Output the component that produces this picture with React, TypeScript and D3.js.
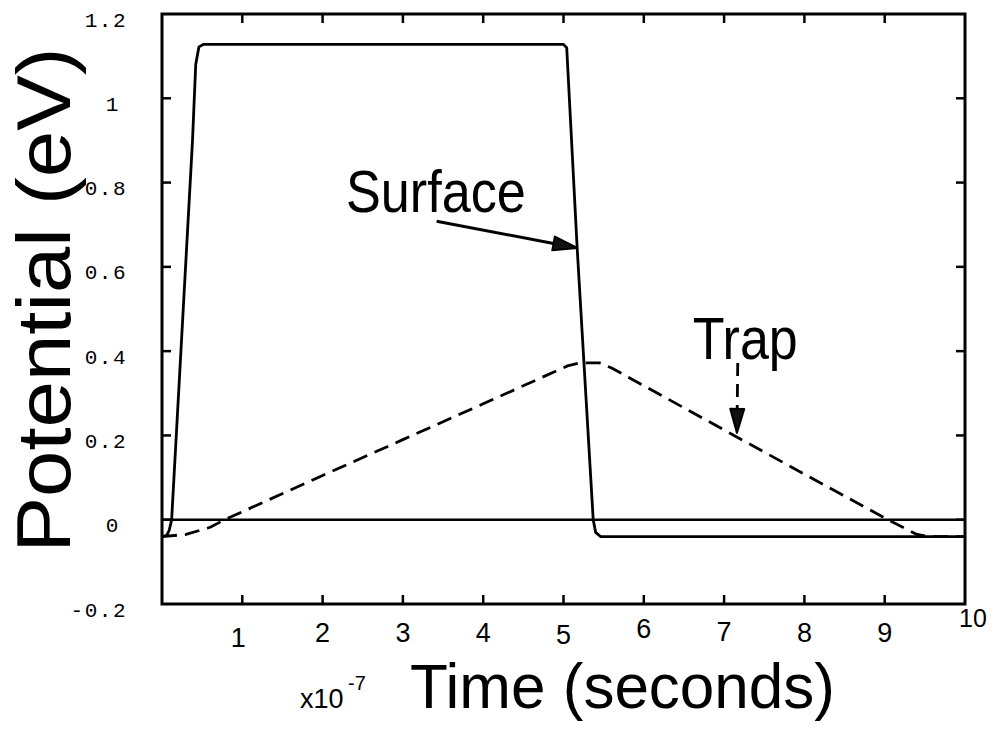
import React from 'react';
import * as d3 from 'd3';

// ---- data ----
const xTicks = [1, 2, 3, 4, 5, 6, 7, 8, 9, 10];
const xTickLabels = ['1', '2', '3', '4', '5', '6', '7', '8', '9', '10'];
const yTicks = [-0.2, 0, 0.2, 0.4, 0.6, 0.8, 1.0, 1.2];
const yTickLabels = ['-0.2', '0', '0.2', '0.4', '0.6', '0.8', '1', '1.2'];

// Surface potential (eV) vs time (x1e-7 s)
const surfaceT = [0, 0.06, 0.09, 0.12, 0.38, 0.42, 0.46, 0.52, 5.0, 5.04, 5.17, 5.37, 5.40, 5.46, 10];
const surfaceV = [-0.04, -0.037, -0.025, 0.0, 0.9, 1.08, 1.122, 1.128, 1.128, 1.12, 0.645, 0.0, -0.03, -0.04, -0.04];

// Trap potential (eV) vs time
const trapT = [0, 0.3, 0.6, 0.78, 2, 3, 4, 5.05, 5.2, 5.45, 5.6, 7, 8, 9.04, 9.4, 9.55, 10];
const trapV = [-0.04, -0.035, -0.018, 0.0, 0.105, 0.19, 0.275, 0.365, 0.372, 0.372, 0.36, 0.213, 0.108, 0.0, -0.035, -0.04, -0.04];

// zero reference line
const zeroT = [0, 10];
const zeroV = [0, 0];

// annotations (data coordinates)
const surfaceLabel = { text: 'Surface', t: 2.29, v: 0.73 };
const surfaceArrow = { t0: 3.42, v0: 0.708, t1: 5.17, v1: 0.645 };
const trapLabel = { text: 'Trap', t: 6.61, v: 0.381 };
const trapArrow = { t0: 7.17, v0: 0.372, t1: 7.16, v1: 0.206 };

// small quirks of the scanned tick-label placement
const xLabelDy = [5, 0, 0, 0, 2, -4, -1, 0, 0, -15];

export default function App() {
  const W = 997, H = 729;
  const x = d3.scaleLinear().domain([0, 10]).range([162, 965]);
  const y = d3.scaleLinear().domain([-0.2, 1.2]).range([604, 14]);
  const line = d3.line<[number, number]>().x(d => x(d[0])).y(d => y(d[1]));
  const surf = line(surfaceT.map((t, i) => [t, surfaceV[i]]) as [number, number][]) || '';
  const trap = line(trapT.map((t, i) => [t, trapV[i]]) as [number, number][]) || '';
  const zero = line(zeroT.map((t, i) => [t, zeroV[i]]) as [number, number][]) || '';

  const tick = 9;
  const [x0, x1] = x.range();
  const [y0, y1] = y.range();

  const arrowHead = (ax: number, ay: number, bx: number, by: number, len = 24, half = 7) => {
    const dx = bx - ax, dy = by - ay;
    const L = Math.hypot(dx, dy);
    const ux = dx / L, uy = dy / L;
    const px = -uy, py = ux;
    const baseX = bx - ux * len, baseY = by - uy * len;
    return `M${bx},${by}L${baseX + px * half},${baseY + py * half}L${baseX - px * half},${baseY - py * half}Z`;
  };

  const sa = { ax: x(surfaceArrow.t0), ay: y(surfaceArrow.v0), bx: x(surfaceArrow.t1), by: y(surfaceArrow.v1) };
  const ta = { ax: x(trapArrow.t0), ay: y(trapArrow.v0), bx: x(trapArrow.t1), by: y(trapArrow.v1) };
  const shorten = (a: any, len: number) => {
    const dx = a.bx - a.ax, dy = a.by - a.ay; const L = Math.hypot(dx, dy);
    return { x: a.bx - dx / L * len, y: a.by - dy / L * len };
  };
  const saEnd = shorten(sa, 20);
  const taEnd = shorten(ta, 20);

  const sans = 'Liberation Sans, Arial, sans-serif';
  const narrow = 'Liberation Sans Narrow, Liberation Sans, Arial, sans-serif';
  const mono = 'Liberation Mono, Courier New, monospace';

  return (
    <svg width={W} height={H} style={{ position: 'absolute', left: 0, top: 0, background: '#fff' }}>
      <rect x={0} y={0} width={W} height={H} fill="#fff" />
      {/* curves */}
      <path d={zero} fill="none" stroke="#000" strokeWidth={2.6} />
      <path d={trap} fill="none" stroke="#000" strokeWidth={2.8} strokeDasharray="15,8" />
      <path d={surf} fill="none" stroke="#000" strokeWidth={2.8} strokeLinejoin="round" />

      {/* frame */}
      <rect x={x0} y={y1} width={x1 - x0} height={y0 - y1} fill="none" stroke="#000" strokeWidth={3} />
      {xTicks.filter(t => t < 10).map(t => (
        <g key={'xt' + t}>
          <line x1={x(t)} x2={x(t)} y1={y0} y2={y0 - tick} stroke="#000" strokeWidth={2.5} />
          <line x1={x(t)} x2={x(t)} y1={y1} y2={y1 + tick} stroke="#000" strokeWidth={2.5} />
        </g>
      ))}
      {yTicks.filter(v => v > -0.2 && v < 1.2).map(v => (
        <g key={'yt' + v}>
          <line x1={x0} x2={x0 + tick} y1={y(v)} y2={y(v)} stroke="#000" strokeWidth={2.5} />
          <line x1={x1} x2={x1 - tick} y1={y(v)} y2={y(v)} stroke="#000" strokeWidth={2.5} />
        </g>
      ))}

      {/* x tick labels */}
      {xTicks.map((t, i) => (
        <text key={'xl' + t} x={x(t) - (t === 1 ? 4 : 0) + (t === 10 ? 8 : 0)} y={633 + xLabelDy[i]}
          textAnchor="middle" dominantBaseline="central"
          fontFamily={narrow} fontSize={xTickLabels[i].length > 1 ? 25 : 27}>{xTickLabels[i]}</text>
      ))}

      {/* y tick labels */}
      {yTicks.map((v, i) => {
        const lab = yTickLabels[i];
        const single = lab.length === 1;
        return (
          <text key={'yl' + v} x={single ? 112 : 127} y={y(v) + 7}
            textAnchor={single ? 'middle' : 'end'} dominantBaseline="central"
            fontFamily={mono} fontSize={21} letterSpacing={single ? 0 : 1.5}>{lab}</text>
        );
      })}

      {/* axis titles */}
      <text transform="translate(70,300) rotate(-90)" textAnchor="middle" fontFamily={sans}
        fontSize={76} textLength={505} lengthAdjust="spacingAndGlyphs">Potential (eV)</text>
      <text x={300} y={708} fontFamily={narrow} fontSize={27}>x10</text>
      <text x={348} y={690} fontFamily={narrow} fontSize={20}>-7</text>
      <text x={410} y={708} fontFamily={sans} fontSize={63} textLength={425} lengthAdjust="spacingAndGlyphs">Time (seconds)</text>

      {/* annotations */}
      <text x={x(surfaceLabel.t)} y={y(surfaceLabel.v)} fontFamily={sans} fontSize={60}
        textLength={180} lengthAdjust="spacingAndGlyphs">{surfaceLabel.text}</text>
      <line x1={sa.ax} y1={sa.ay} x2={saEnd.x} y2={saEnd.y} stroke="#000" strokeWidth={3} />
      <path d={arrowHead(sa.ax, sa.ay, sa.bx, sa.by)} fill="#111" stroke="#000" strokeWidth={2} strokeLinejoin="round" />

      <text x={x(trapLabel.t)} y={y(trapLabel.v)} fontFamily={sans} fontSize={60}
        textLength={105} lengthAdjust="spacingAndGlyphs">{trapLabel.text}</text>
      <line x1={ta.ax} y1={ta.ay} x2={taEnd.x} y2={taEnd.y} stroke="#000" strokeWidth={2.8} strokeDasharray="13,8" />
      <path d={arrowHead(ta.ax, ta.ay, ta.bx, ta.by)} fill="#111" stroke="#000" strokeWidth={2} strokeLinejoin="round" />
    </svg>
  );
}
